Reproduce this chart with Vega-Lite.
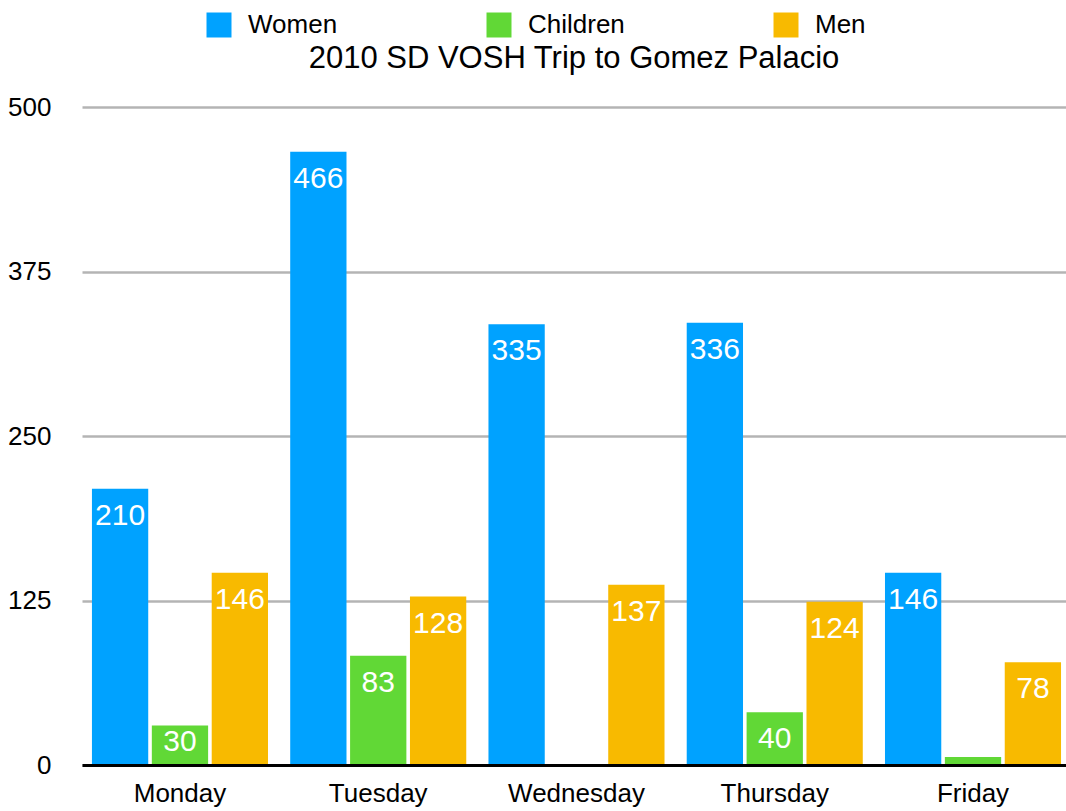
{
  "$schema": "https://vega.github.io/schema/vega-lite/v6.json",
  "width": 984,
  "height": 658,
  "autosize": {"type": "none"},
  "padding": {"left": 82, "top": 107, "right": 0, "bottom": 46},
  "config": {"font": "Liberation Sans", "view": {"stroke": null}},
  "title": {"text": "2010 SD VOSH Trip to Gomez Palacio", "fontSize": 31, "fontWeight": "normal", "color": "#000000", "anchor": "middle", "offset": 0, "baseline": "alphabetic", "dy": 87},
  "data": {"values": [
    {"Day": "Monday", "Group": "Women", "Count": 210},
    {"Day": "Monday", "Group": "Children", "Count": 30},
    {"Day": "Monday", "Group": "Men", "Count": 146},
    {"Day": "Tuesday", "Group": "Women", "Count": 466},
    {"Day": "Tuesday", "Group": "Children", "Count": 83},
    {"Day": "Tuesday", "Group": "Men", "Count": 128},
    {"Day": "Wednesday", "Group": "Women", "Count": 335},
    {"Day": "Wednesday", "Group": "Children", "Count": 0},
    {"Day": "Wednesday", "Group": "Men", "Count": 137},
    {"Day": "Thursday", "Group": "Women", "Count": 336},
    {"Day": "Thursday", "Group": "Children", "Count": 40},
    {"Day": "Thursday", "Group": "Men", "Count": 124},
    {"Day": "Friday", "Group": "Women", "Count": 146},
    {"Day": "Friday", "Group": "Children", "Count": 6},
    {"Day": "Friday", "Group": "Men", "Count": 78}
  ]},
  "encoding": {
    "x": {
      "field": "Day", "type": "nominal",
      "sort": ["Monday", "Tuesday", "Wednesday", "Thursday", "Friday"],
      "scale": {"paddingInner": 0.112, "paddingOuter": 0.0376, "align": 0.667},
      "axis": {"title": null, "labelAngle": 0, "ticks": false, "domain": true, "domainColor": "#000000", "domainWidth": 3, "labelFontSize": 26, "labelPadding": 15, "labelColor": "#000000", "zindex": 1}
    },
    "xOffset": {
      "field": "Group", "type": "nominal",
      "sort": ["Women", "Children", "Men"],
      "scale": {"paddingInner": 0.06, "paddingOuter": 0}
    },
    "y": {
      "field": "Count", "type": "quantitative",
      "scale": {"domain": [0, 500]},
      "axis": {"title": null, "values": [0, 125, 250, 375, 500], "domain": false, "ticks": false, "grid": true, "gridColor": "#b4b4b4", "gridWidth": 2.5, "labelFontSize": 26, "labelPadding": 31, "labelColor": "#000000"}
    }
  },
  "layer": [
    {
      "mark": {"type": "bar"},
      "encoding": {
        "color": {
          "field": "Group", "type": "nominal",
          "sort": ["Women", "Children", "Men"],
          "scale": {"domain": ["Women", "Children", "Men"], "range": ["#00A2FF", "#61D836", "#F8BA00"]},
          "legend": {"title": null, "orient": "none", "direction": "horizontal", "legendX": 124, "legendY": -95, "padding": 0, "symbolType": "square", "symbolSize": 625, "symbolStrokeWidth": 0, "symbolOpacity": 1, "labelFontSize": 26, "labelOffset": 16, "columnPadding": 148, "labelColor": "#000000"}
        }
      }
    },
    {
      "transform": [{"filter": "datum.Count >= 40"}],
      "mark": {"type": "text", "baseline": "top", "dy": 12, "color": "#ffffff", "fontSize": 30},
      "encoding": {"text": {"field": "Count", "type": "quantitative"}}
    },
    {
      "transform": [{"filter": "datum.Count >= 20 && datum.Count < 40"}],
      "mark": {"type": "text", "baseline": "top", "dy": 1, "color": "#ffffff", "fontSize": 30},
      "encoding": {"text": {"field": "Count", "type": "quantitative"}}
    }
  ]
}
